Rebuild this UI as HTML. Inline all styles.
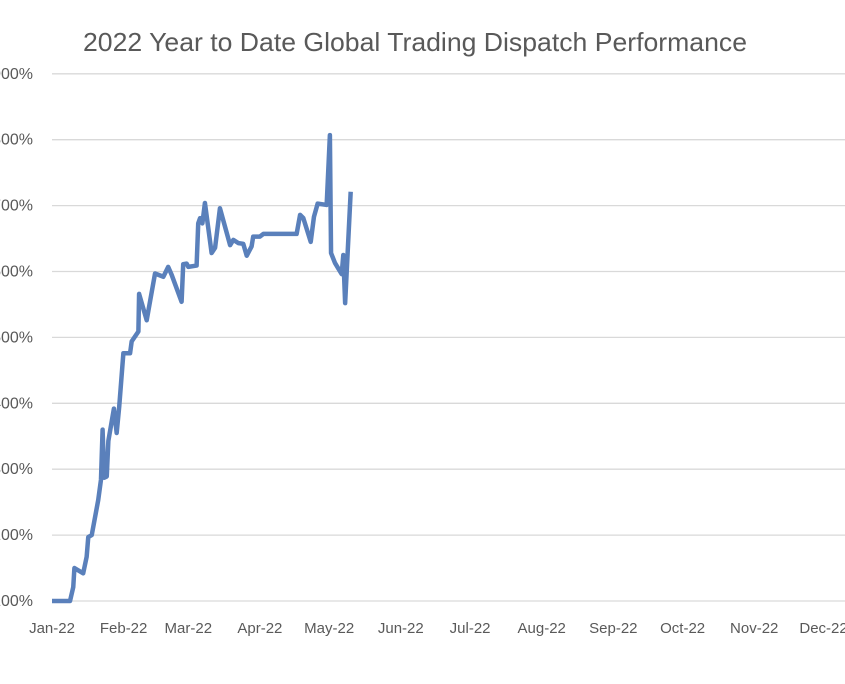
<!DOCTYPE html>
<html><head><meta charset="utf-8"><style>
html,body{margin:0;padding:0;background:#fff;}
svg{display:block;font-family:"Liberation Sans",sans-serif;}
</style></head><body>
<svg id="chart" width="845" height="684">
<text x="83" y="51" font-size="26" fill="#595959" textLength="664" lengthAdjust="spacingAndGlyphs">2022 Year to Date Global Trading Dispatch Performance</text>
<g id="grid"></g><g id="yt"></g><g id="xt"></g><g id="series"></g>
</svg>
<script>
const yTickValues=[0,1,2,3,4,5,6,7,8];
const yTickLabels=["100%","200%","300%","400%","500%","600%","700%","800%","900%"];
const monthDays=[0,31,59,90,120,151,181,212,243,273,304,334];
const monthLabels=["Jan-22","Feb-22","Mar-22","Apr-22","May-22","Jun-22","Jul-22","Aug-22","Sep-22","Oct-22","Nov-22","Dec-22"];
const days=[0,7.8,9.2,9.7,13.5,15,15.7,17.2,20,21.2,21.9,22.6,23.7,24.4,26.8,28,29.1,30.9,33.8,34.5,37.4,37.7,41,42,44.6,48.2,50.3,51.8,56.1,56.8,58.3,59,62.6,63.3,64.1,65.1,66.2,69.1,70.6,72.7,77.1,78.5,80.7,82.8,84.3,86.4,87.1,90,91.5,105.9,107.4,108.8,112,113.4,115,118.9,120.3,120.8,122.5,125.4,126.1,126.9,129.3];
const values=[0,0,0.21,0.5,0.42,0.67,0.97,1.0,1.53,1.84,2.6,1.87,1.89,2.43,2.92,2.55,2.95,3.76,3.76,3.94,4.09,4.66,4.26,4.46,4.97,4.92,5.07,4.95,4.54,5.11,5.12,5.07,5.09,5.73,5.81,5.73,6.04,5.28,5.36,5.96,5.4,5.48,5.43,5.42,5.24,5.38,5.53,5.53,5.57,5.57,5.86,5.81,5.45,5.83,6.03,6.01,7.07,5.28,5.13,4.96,5.25,4.52,6.21];
const NS="http://www.w3.org/2000/svg";
const xs=d=>52+d*2.31;
const ys=v=>601-v*65.9;
function mk(tag,attrs,parent){const e=document.createElementNS(NS,tag);for(const k in attrs)e.setAttribute(k,attrs[k]);document.getElementById(parent).appendChild(e);return e;}
yTickValues.forEach((v,i)=>{
  const l=mk('line',{x1:52,x2:845,y1:ys(v),y2:ys(v),stroke:'#d9d9d9','stroke-width':1.3},'grid');
  
  
  const t=mk('text',{x:33,y:ys(v)+5,'text-anchor':'end','font-size':16,fill:'#595959'},'yt');
  t.textContent=yTickLabels[i];
  
  
});
monthDays.forEach((d,i)=>{
  const t=mk('text',{x:xs(d),y:633,'text-anchor':'middle','font-size':15,fill:'#595959'},'xt');
  t.textContent=monthLabels[i];
  
  
});
const p=mk('polyline',{points:days.map((d,i)=>xs(d)+','+ys(values[i])).join(' '),fill:'none',stroke:'#5a80bb','stroke-width':4.5,'stroke-linejoin':'round'},'series');


</script>
</body></html>
